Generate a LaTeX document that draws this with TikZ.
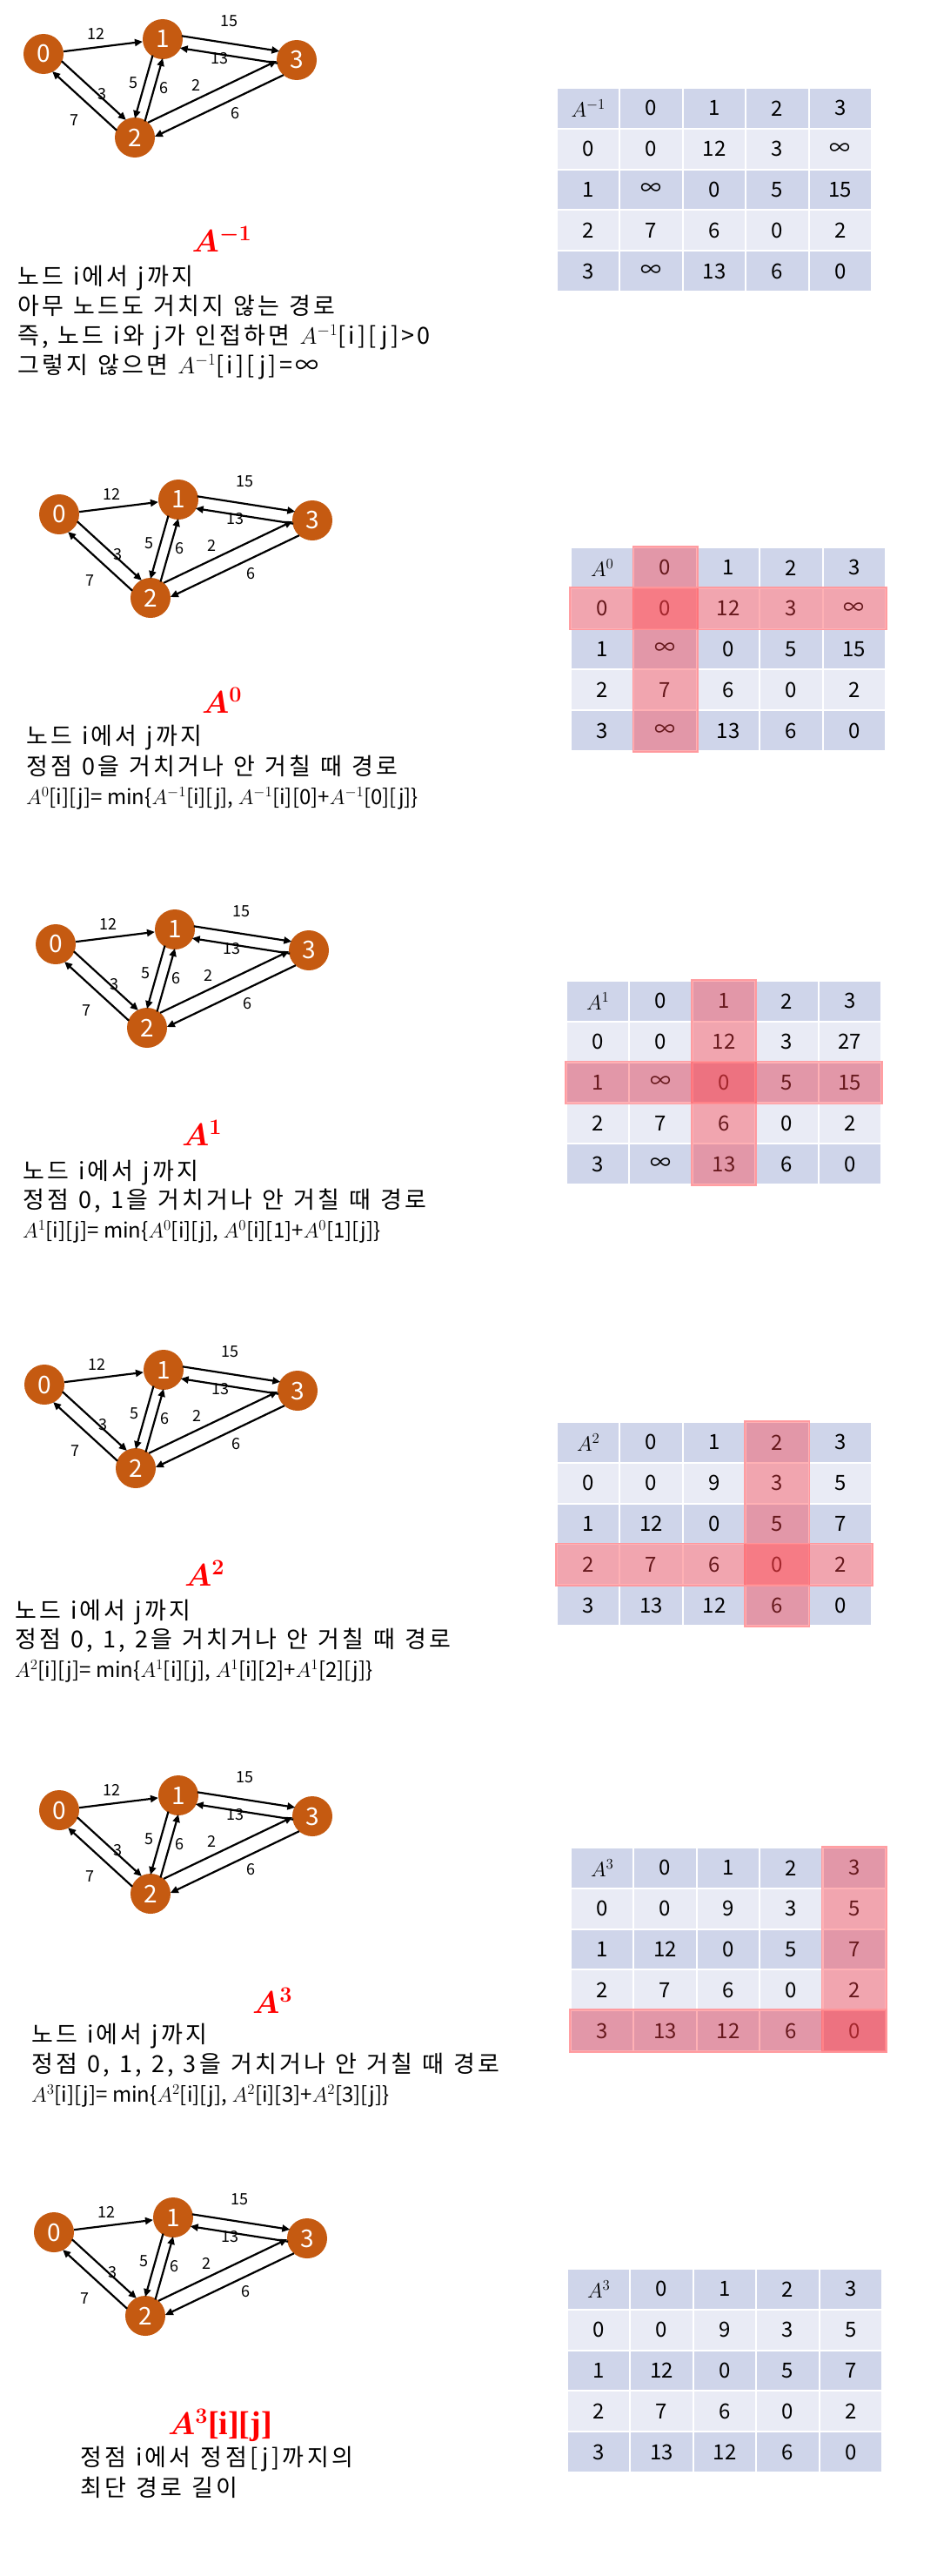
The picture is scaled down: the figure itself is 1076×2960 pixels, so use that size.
\RequirePackage{fix-cm}
\documentclass[tikz,border=0pt]{standalone}
\usepackage{fontspec}
\setmainfont{Noto Sans CJK KR}
\newfontfamily\krsp[LetterSpace=12,WordSpace=1.2]{Noto Sans CJK KR}
\newfontfamily\serifb{Liberation Serif}
\usepackage{bm}
\usetikzlibrary{calc,arrows.meta}
\definecolor{nodeor}{HTML}{C55A11}
\definecolor{cdark}{HTML}{CFD5EA}
\definecolor{clight}{HTML}{E9EBF5}
\definecolor{hlfill}{RGB}{255,60,70}
\definecolor{hlborder}{RGB}{255,150,155}
\tikzset{
 gnode/.style={circle, fill=nodeor, minimum size=46pt, inner sep=0pt, text=white, font=\fontsize{28}{28}\selectfont},
 edge/.style={line width=2.2pt, -{Triangle[length=9pt,width=8pt]}},
 pedgest/.style={edge, shorten <=21pt, shorten >=21pt},
 elabel/.style={font=\fontsize{18}{18}\selectfont, inner sep=0pt},
 cell/.style={rectangle, minimum width=70.4pt, minimum height=44.8pt, inner sep=0pt, font=\fontsize{24}{24}\selectfont},
 dcell/.style={cell, fill=cdark},
 lcell/.style={cell, fill=clight},
 hl/.style={fill=hlfill, fill opacity=0.4, draw=hlborder, draw opacity=0.9, line width=1.5pt},
 titlest/.style={text=red, font=\fontsize{36}{36}\selectfont, inner sep=0pt},
 bodyline/.style={font=\fontsize{24}{34}\selectfont, anchor=base west, inner sep=0pt},
 krline/.style={font=\krsp\fontsize{27}{34}\selectfont, anchor=base west, inner sep=0pt},
}
\newcommand{\pedge}[5]{\draw[pedgest] ($(#1)!#3!#4:(#2)$) -- ($(#2)!#3!#5:(#1)$);}
\newcommand{\fwgraph}[3]{%
 \begin{scope}[shift={(#2,#3)}]
  \node[gnode] (#1n0) at (0,0) {0};
  \node[gnode] (#1n1) at (137,-17) {1};
  \node[gnode] (#1n2) at (105,96) {2};
  \node[gnode] (#1n3) at (291,7) {3};
  \node[elabel] (#1la) at (60,-23) {12};
  \node[elabel] (#1lb) at (213,-38) {15};
  \node[elabel] (#1lc) at (202,5) {13};
  \node[elabel] (#1ld) at (67,46) {3};
  \node[elabel] (#1le) at (35,76) {7};
  \node[elabel] (#1lf) at (103,33) {5};
  \node[elabel] (#1lg) at (138,39) {6};
  \node[elabel] (#1lh) at (175,36) {2};
  \node[elabel] (#1li) at (220,68) {6};
 \end{scope}
 \draw[edge] (#1n0) -- (#1n1);
 \pedge{#1n1}{#1n3}{7pt}{90}{-90}
 \pedge{#1n3}{#1n1}{7pt}{90}{-90}
 \pedge{#1n0}{#1n2}{8pt}{90}{-90}
 \pedge{#1n2}{#1n0}{8pt}{90}{-90}
 \pedge{#1n1}{#1n2}{6pt}{-90}{90}
 \pedge{#1n2}{#1n1}{6pt}{-90}{90}
 \pedge{#1n2}{#1n3}{9pt}{90}{-90}
 \pedge{#1n3}{#1n2}{9pt}{90}{-90}
}
\newcommand{\trow}[8]{%
 \foreach \cc/\vv in {0/{#4},1/{#5},2/{#6},3/{#7},4/{#8}} {
  \node[#3] (#1r#2c\cc) at ({(\cc+0.5)*72.4},{(#2+0.5)*46.8}) {\vv};
 }
}
\newcommand{\hlcol}[1]{\draw[hl] ({#1*72.4-1},-1) rectangle ({(#1+1)*72.4+1},235);}
\newcommand{\hlrow}[1]{\draw[hl] (-1,{#1*46.8-1}) rectangle (363,{(#1+1)*46.8+1});}
\newcommand{\tabA}[2]{%
 \trow{#1}{0}{dcell}{#2}{0}{1}{2}{3}
 \trow{#1}{1}{lcell}{0}{0}{12}{3}{∞}
 \trow{#1}{2}{dcell}{1}{∞}{0}{5}{15}
 \trow{#1}{3}{lcell}{2}{7}{6}{0}{2}
 \trow{#1}{4}{dcell}{3}{∞}{13}{6}{0}
}
\newcommand{\tabC}[2]{%
 \trow{#1}{0}{dcell}{#2}{0}{1}{2}{3}
 \trow{#1}{1}{lcell}{0}{0}{9}{3}{5}
 \trow{#1}{2}{dcell}{1}{12}{0}{5}{7}
 \trow{#1}{3}{lcell}{2}{7}{6}{0}{2}
 \trow{#1}{4}{dcell}{3}{13}{12}{6}{0}
}
\begin{document}
\begin{tikzpicture}[x=1pt,y=-1pt]
\fill[white] (0,0) rectangle (1076,2960);
\useasboundingbox (0,0) rectangle (1076,2960);

% ---------- Section 1 ----------
\fwgraph{ga}{50}{62}
\begin{scope}[shift={(640,101)}]
 \tabA{ta}{$A^{-1}$}
\end{scope}
\node[titlest] (tta) at (255,275) {$\bm{A^{-1}}$};
\node[krline] (sa1) at (20,327) {노드 i에서 j까지};
\node[krline] (sa2) at (20,361) {아무 노드도 거치지 않는 경로};
\node[krline] (sa3) at (20,395) {즉, 노드 i와 j가 인접하면 $A^{-1}$[i][j]>0};
\node[krline] (sa4) at (20,429) {그렇지 않으면 $A^{-1}$[i][j]=∞};

% ---------- Section 2 ----------
\fwgraph{gb}{68}{591}
\begin{scope}[shift={(656,629)}]
 \tabA{tb}{$A^{0}$}
 \hlcol{1}
 \hlrow{1}
\end{scope}
\node[titlest] (ttb) at (255,805) {$\bm{A^{0}}$};
\node[krline] (sb1) at (30,855) {노드 i에서 j까지};
\node[krline] (sb2) at (30,890) {정점 0을 거치거나 안 거칠 때 경로};
\node[bodyline] (sb3) at (30,924) {$A^{0}$[i][j]= min\{$A^{-1}$[i][j], $A^{-1}$[i][0]+$A^{-1}$[0][j]\}};

% ---------- Section 3 ----------
\fwgraph{gc}{64}{1085}
\begin{scope}[shift={(651,1127)}]
 \trow{tc}{0}{dcell}{$A^{1}$}{0}{1}{2}{3}
 \trow{tc}{1}{lcell}{0}{0}{12}{3}{27}
 \trow{tc}{2}{dcell}{1}{∞}{0}{5}{15}
 \trow{tc}{3}{lcell}{2}{7}{6}{0}{2}
 \trow{tc}{4}{dcell}{3}{∞}{13}{6}{0}
 \hlcol{2}
 \hlrow{2}
\end{scope}
\node[titlest] (ttc) at (232,1302) {$\bm{A^{1}}$};
\node[krline] (sc1) at (26,1355) {노드 i에서 j까지};
\node[krline] (sc2) at (26,1388) {정점 0, 1을 거치거나 안 거칠 때 경로};
\node[bodyline] (sc3) at (26,1422) {$A^{1}$[i][j]= min\{$A^{0}$[i][j], $A^{0}$[i][1]+$A^{0}$[1][j]\}};

% ---------- Section 4 ----------
\fwgraph{gd}{51}{1591}
\begin{scope}[shift={(640,1634)}]
 \tabC{td}{$A^{2}$}
 \hlcol{3}
 \hlrow{3}
\end{scope}
\node[titlest] (ttd) at (235,1808) {$\bm{A^{2}}$};
\node[krline] (sd1) at (17,1860) {노드 i에서 j까지};
\node[krline] (sd2) at (17,1893) {정점 0, 1, 2을 거치거나 안 거칠 때 경로};
\node[bodyline] (sd3) at (17,1927) {$A^{2}$[i][j]= min\{$A^{1}$[i][j], $A^{1}$[i][2]+$A^{1}$[2][j]\}};

% ---------- Section 5 ----------
\fwgraph{ge}{68}{2080}
\begin{scope}[shift={(656,2123)}]
 \tabC{te}{$A^{3}$}
 \hlcol{4}
 \hlrow{4}
\end{scope}
\node[titlest] (tte) at (313,2299) {$\bm{A^{3}}$};
\node[krline] (se1) at (36,2347) {노드 i에서 j까지};
\node[krline] (se2) at (36,2381) {정점 0, 1, 2, 3을 거치거나 안 거칠 때 경로};
\node[bodyline] (se3) at (36,2415) {$A^{3}$[i][j]= min\{$A^{2}$[i][j], $A^{2}$[i][3]+$A^{2}$[3][j]\}};

% ---------- Section 6 ----------
\fwgraph{gf}{62}{2565}
\begin{scope}[shift={(652,2607)}]
 \tabC{tf}{$A^{3}$}
\end{scope}
\node[titlest] (ttf) at (253,2787) {$\bm{A^{3}}${\serifb\bfseries\fontsize{38}{38}\selectfont[i][j]}};
\node[krline] (sf1) at (92,2833) {정점 i에서 정점[j]까지의};
\node[krline] (sf2) at (92,2868) {최단 경로 길이};
\end{tikzpicture}
\end{document}
